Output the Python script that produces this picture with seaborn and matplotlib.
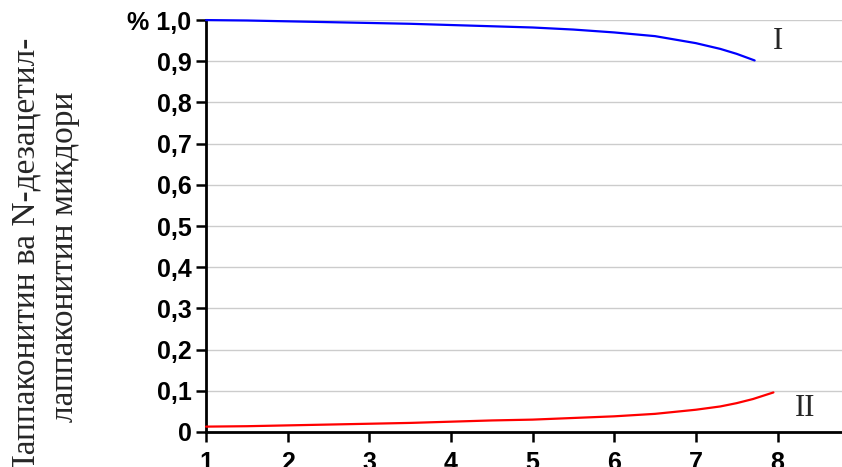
import numpy as np
import pandas as pd
import seaborn as sns
import matplotlib.pyplot as plt

# values
x_I = [1.0, 1.5, 2.0, 2.5, 3.0, 3.5, 4.0, 4.5, 5.0, 5.5, 6.0, 6.5, 7.0, 7.3, 7.5, 7.72]
y_I = [1.0, 0.999, 0.997, 0.995, 0.993, 0.991, 0.988, 0.985, 0.982, 0.977, 0.970, 0.961, 0.944, 0.930, 0.918, 0.902]
x_II = [1.0, 1.5, 2.0, 2.5, 3.0, 3.5, 4.0, 4.5, 5.0, 5.5, 6.0, 6.5, 7.0, 7.3, 7.5, 7.7, 7.95]
y_II = [0.013, 0.014, 0.016, 0.018, 0.020, 0.022, 0.025, 0.028, 0.030, 0.034, 0.038, 0.044, 0.054, 0.062, 0.070, 0.080, 0.096]
x_ticks = [1, 2, 3, 4, 5, 6, 7, 8]
y_ticks = [0, 0.1, 0.2, 0.3, 0.4, 0.5, 0.6, 0.7, 0.8, 0.9, 1.0]
y_ticklabels = ['0', '0,1', '0,2', '0,3', '0,4', '0,5', '0,6', '0,7', '0,8', '0,9', '% 1,0']
ylabel = 'Лаппаконитин ва N-дезацетил-\nлаппаконитин микдори'

df = pd.DataFrame({
    'x': x_I + x_II,
    'y': y_I + y_II,
    'curve': ['I'] * len(x_I) + ['II'] * len(x_II),
})

sns.set_style('white')
plt.rcParams['font.family'] = ['Liberation Sans', 'DejaVu Sans']

fig = plt.figure(figsize=(8.42, 4.67), dpi=100)
ax = fig.add_axes([0.2447, 0.075, 0.7553, 0.882])

sns.lineplot(data=df, x='x', y='y', hue='curve', palette={'I': '#0000ff', 'II': '#ff0000'},
             linewidth=1.6, legend=False, ax=ax, clip_on=False, zorder=3)

ax.set_xlim(1, 8.79)
ax.set_ylim(0, 1.0)
ax.set_xticks(x_ticks)
ax.set_xticklabels([str(t) for t in x_ticks])
ax.set_yticks(y_ticks)
ax.set_yticklabels(y_ticklabels)
ax.tick_params(axis='both', direction='out', length=7.5, width=1.8, color='black',
               labelsize=18, labelcolor='black', left=True, bottom=True)
ax.tick_params(axis='x', pad=6)
ax.tick_params(axis='y', pad=3)
for lab in ax.get_xticklabels() + ax.get_yticklabels():
    lab.set_fontweight('bold')

ax.grid(axis='y', color='#cccccc', linewidth=1)
ax.set_axisbelow(True)
for s in ['top', 'right']:
    ax.spines[s].set_visible(False)
for s in ['left', 'bottom']:
    ax.spines[s].set_color('black')
    ax.spines[s].set_linewidth(2)
ax.set_xlabel('')
ax.set_ylabel('')

ax.text(8.01, 0.949, 'I', fontsize=22, family='Liberation Serif', ha='center', va='center')
ax.text(8.34, 0.056, 'II', fontsize=22, family='Liberation Serif', ha='center', va='center')

fig.text(0.054, 0.45, ylabel, rotation=90, fontsize=24, family='Liberation Serif',
         ha='center', va='center', multialignment='center', linespacing=1.35)

fig.savefig('out.png', dpi=100)
